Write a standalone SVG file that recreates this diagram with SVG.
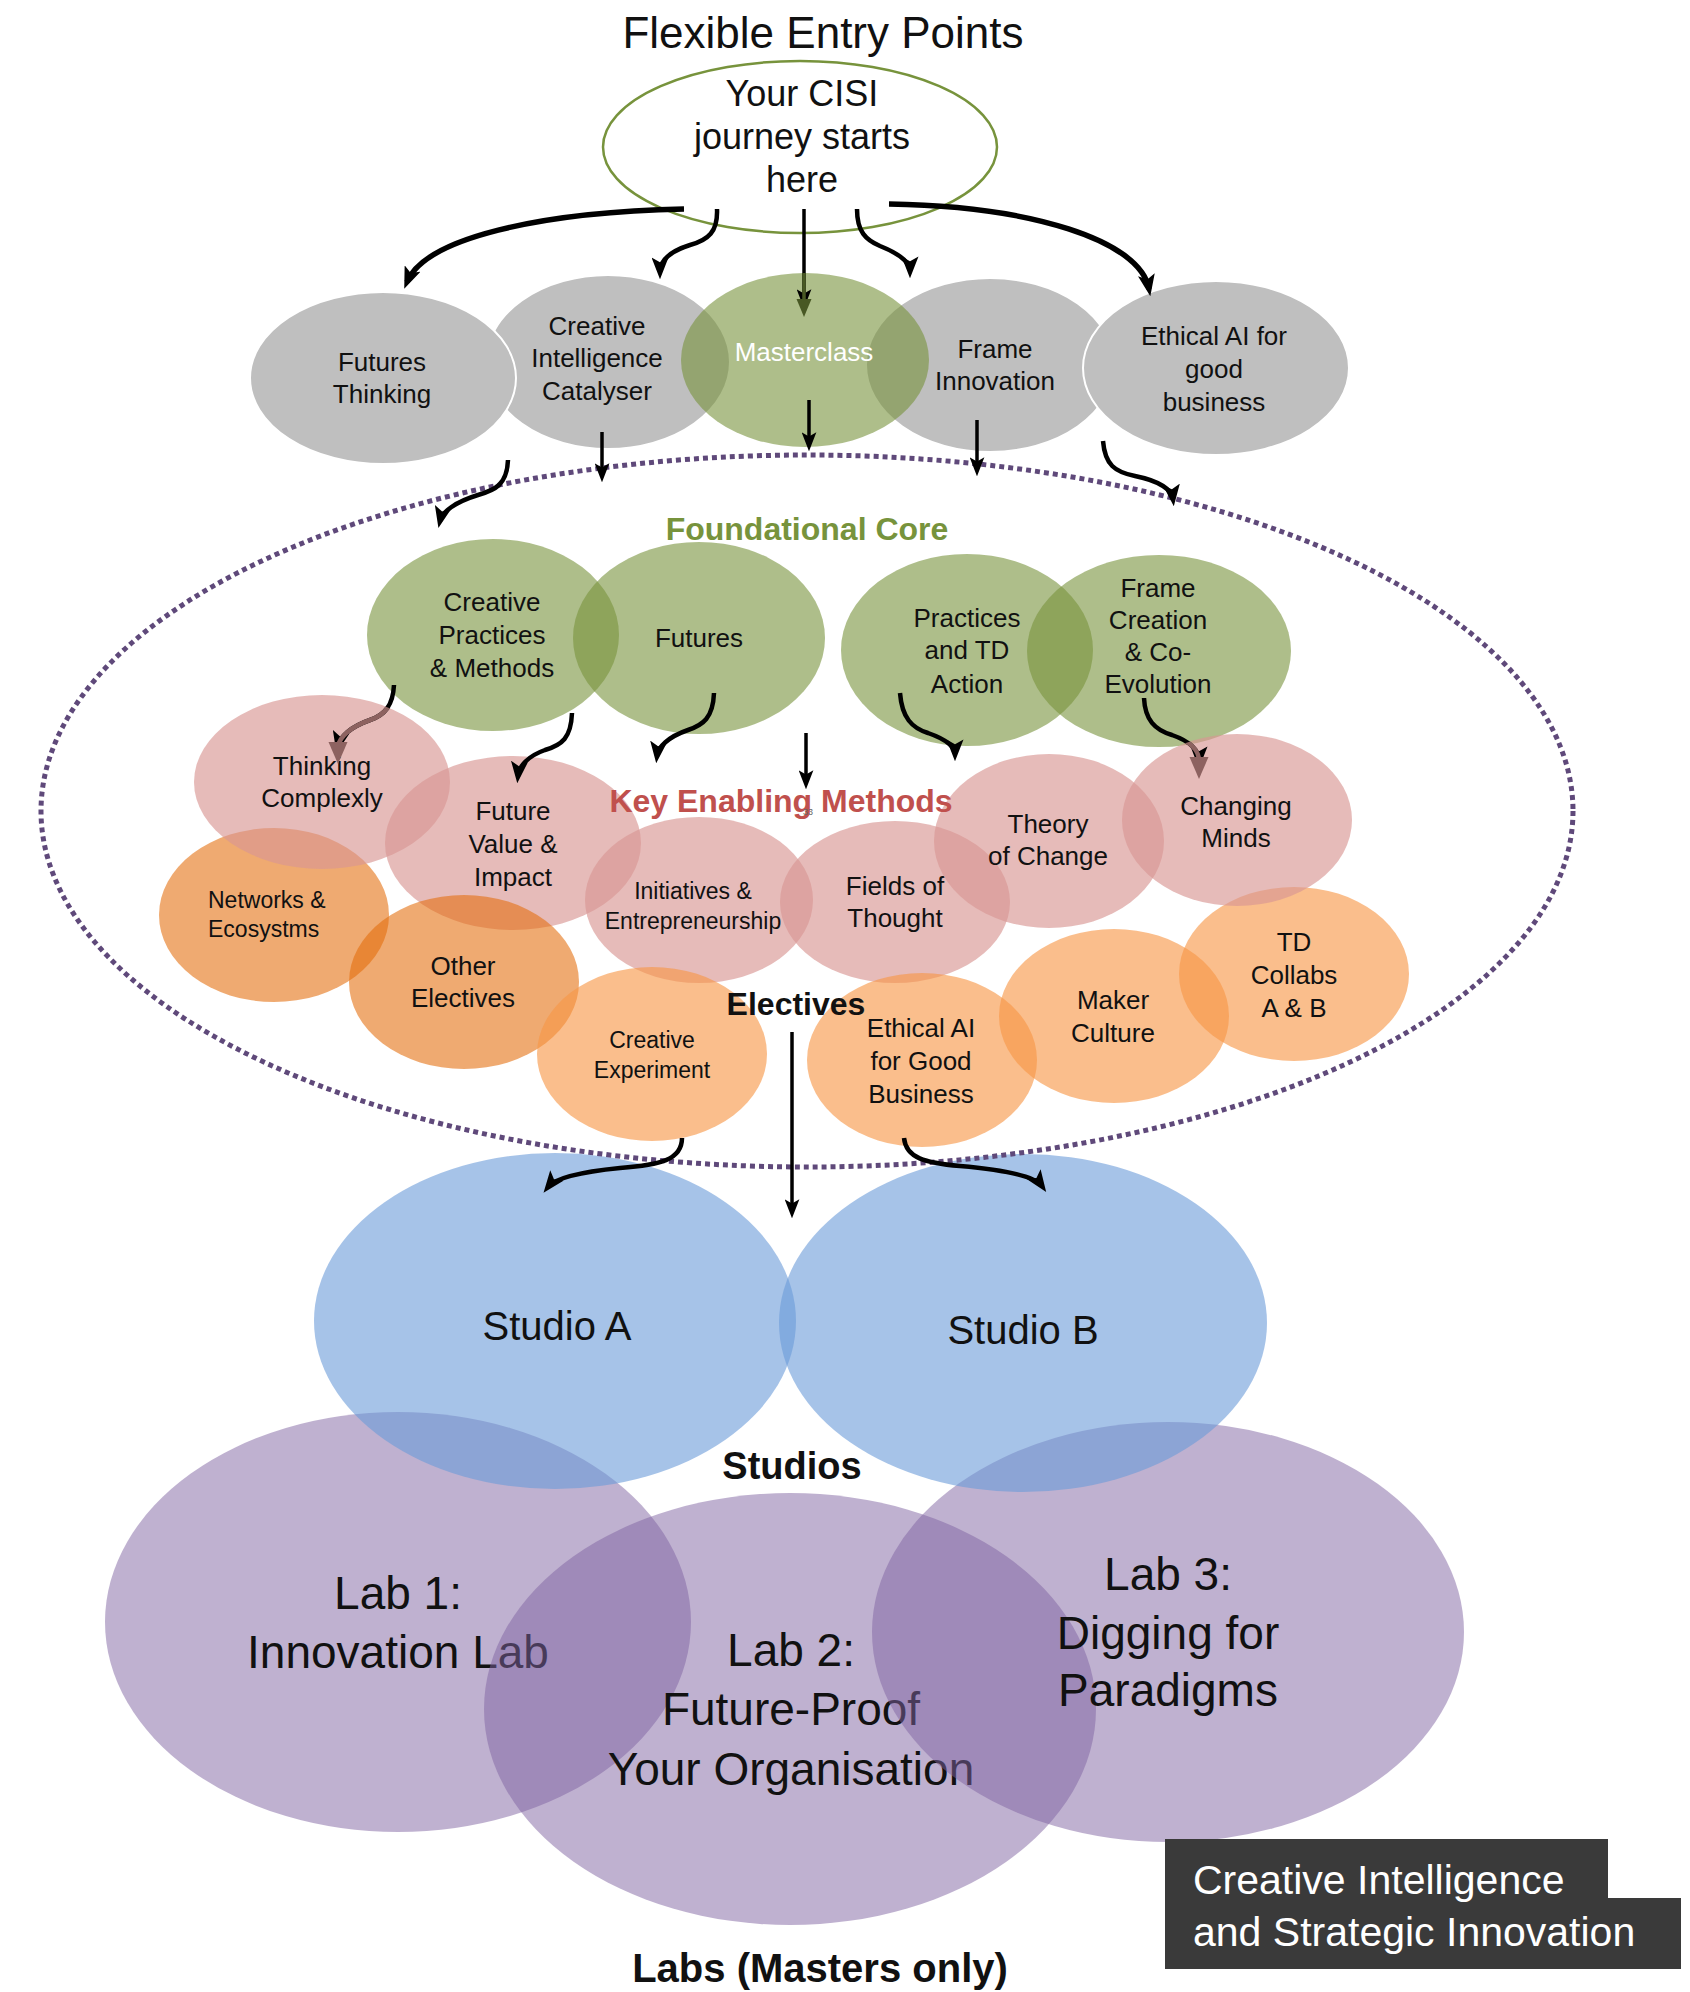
<svg xmlns="http://www.w3.org/2000/svg" width="1690" height="1992" viewBox="0 0 1690 1992">
<style>
text{font-family:"Liberation Sans",Arial,sans-serif;text-anchor:middle;fill:#111}
.t26{font-size:26px}
.t23{font-size:23px}
.lab{font-size:46px}
.hdr{font-weight:bold;font-size:32px}
.gray{fill:#BFBFBF;stroke:#fff;stroke-width:2}
.green{fill:#78933C;fill-opacity:0.6}
.pink{fill:#D99694;fill-opacity:0.65}
.orD{fill:#E36C0A;fill-opacity:0.58}
.orL{fill:#F79646;fill-opacity:0.62}
.studio{fill:#6B9BD8;fill-opacity:0.6}
.labf{fill:#8064A2;fill-opacity:0.5}
.c{fill:none;stroke:#000}
.w5{stroke-width:5.5}
.w4{stroke-width:4.5}
.w3{stroke-width:3.5}
</style>
<defs>
<marker id="ah" viewBox="0 0 18 14" markerWidth="22" markerHeight="17" refX="12" refY="7" orient="auto" markerUnits="userSpaceOnUse"><path d="M0,0 L18,7 L0,14 L4,7 z" fill="#000"/></marker>
<marker id="ahS" viewBox="0 0 18 14" markerWidth="19" markerHeight="15" refX="12" refY="7" orient="auto" markerUnits="userSpaceOnUse"><path d="M0,0 L18,7 L0,14 L4,7 z" fill="#000"/></marker>
<clipPath id="clipMC"><ellipse cx="805" cy="360" rx="124" ry="87"/></clipPath>
<clipPath id="clipTC"><ellipse cx="322" cy="782" rx="128" ry="87"/></clipPath>
<clipPath id="clipCM"><ellipse cx="1237" cy="820" rx="115" ry="86"/></clipPath>
</defs>

<!-- Labs -->
<g id="lab1"><ellipse class="labf" cx="398" cy="1622" rx="293" ry="210"/><text class="lab" x="398" y="1609">Lab 1:</text><text class="lab" x="398" y="1668">Innovation Lab</text></g>
<g id="lab2"><ellipse class="labf" cx="790" cy="1709" rx="306" ry="216"/><text class="lab" x="791" y="1666">Lab 2:</text><text class="lab" x="791" y="1725">Future-Proof</text><text class="lab" x="791" y="1785">Your Organisation</text></g>
<g id="lab3"><ellipse class="labf" cx="1168" cy="1632" rx="296" ry="210"/><text class="lab" x="1168" y="1590">Lab 3:</text><text class="lab" x="1168" y="1649">Digging for</text><text class="lab" x="1168" y="1706">Paradigms</text></g>

<!-- Studios -->
<g id="studioA"><ellipse class="studio" cx="555" cy="1321" rx="241" ry="168"/><text x="557" y="1340" style="font-size:40px">Studio A</text></g>
<g id="studioB"><ellipse class="studio" cx="1023" cy="1323" rx="244" ry="169"/><text x="1023" y="1344" style="font-size:40px">Studio B</text></g>

<g id="labels">
<text x="792" y="1479" style="font-weight:bold;font-size:38px">Studios</text>
<text x="820" y="1982" style="font-weight:bold;font-size:40px">Labs (Masters only)</text>
</g>

<g id="cisi-box">
<path d="M1165,1839 L1608,1839 L1608,1898 L1681,1898 L1681,1969 L1165,1969 Z" fill="#3A3A3A"/>
<text x="1193" y="1894" style="font-size:41px;fill:#fff;text-anchor:start">Creative Intelligence</text>
<text x="1193" y="1946" style="font-size:41px;fill:#fff;text-anchor:start">and Strategic Innovation</text>
</g>

<!-- dotted boundary -->
<g id="boundary"><ellipse cx="807" cy="811" rx="766" ry="356" fill="none" stroke="#5F497A" stroke-width="5" stroke-dasharray="5 4"/></g>

<!-- entry points -->
<g id="cic"><ellipse class="gray" cx="608" cy="362" rx="122" ry="87"/><text class="t26" x="597" y="335">Creative</text><text class="t26" x="597" y="367">Intelligence</text><text class="t26" x="597" y="400">Catalyser</text></g>
<g id="frame-innovation"><ellipse class="gray" cx="990" cy="365" rx="124" ry="87"/><text class="t26" x="995" y="358">Frame</text><text class="t26" x="995" y="390">Innovation</text></g>
<g id="futures-thinking"><ellipse class="gray" cx="383" cy="378" rx="133" ry="86"/><text class="t26" x="382" y="371">Futures</text><text class="t26" x="382" y="403">Thinking</text></g>
<g id="ethical-ai-entry"><ellipse class="gray" cx="1216" cy="368" rx="133" ry="87"/><text class="t26" x="1214" y="345">Ethical AI for</text><text class="t26" x="1214" y="378">good</text><text class="t26" x="1214" y="411">business</text></g>
<g id="masterclass"><ellipse class="green" cx="805" cy="360" rx="124" ry="87"/><text class="t26" x="804" y="361" style="fill:#fff">Masterclass</text></g>

<g id="start"><ellipse cx="800" cy="147" rx="197" ry="86" fill="#fff" stroke="#77933C" stroke-width="2.5"/>
<text x="802" y="106" style="font-size:36px">Your CISI</text><text x="802" y="149" style="font-size:36px">journey starts</text><text x="802" y="192" style="font-size:36px">here</text></g>

<!-- foundational core -->
<g id="cpm"><ellipse class="green" cx="493" cy="635" rx="126" ry="96"/><text class="t26" x="492" y="611">Creative</text><text class="t26" x="492" y="644">Practices</text><text class="t26" x="492" y="677">&amp; Methods</text></g>
<g id="futures"><ellipse class="green" cx="699" cy="638" rx="126" ry="96"/><text class="t26" x="699" y="647">Futures</text></g>
<g id="practices-td"><ellipse class="green" cx="967" cy="650" rx="126" ry="96"/><text class="t26" x="967" y="627">Practices</text><text class="t26" x="967" y="659">and TD</text><text class="t26" x="967" y="693">Action</text></g>
<g id="frame-creation"><ellipse class="green" cx="1159" cy="651" rx="132" ry="96"/><text class="t26" x="1158" y="597">Frame</text><text class="t26" x="1158" y="629">Creation</text><text class="t26" x="1158" y="661">&amp; Co-</text><text class="t26" x="1158" y="693">Evolution</text></g>

<!-- electives & key enabling methods -->
<g id="networks"><ellipse class="orD" cx="274" cy="915" rx="115" ry="87"/><text class="t23" x="208" y="908" style="text-anchor:start">Networks &amp;</text><text class="t23" x="208" y="937" style="text-anchor:start">Ecosystms</text></g>
<g id="thinking-complexly"><ellipse class="pink" cx="322" cy="782" rx="128" ry="87"/><text class="t26" x="322" y="775">Thinking</text><text class="t26" x="322" y="807">Complexly</text></g>
<g id="future-value"><ellipse class="pink" cx="513" cy="843" rx="128" ry="87"/><text class="t26" x="513" y="820">Future</text><text class="t26" x="513" y="853">Value &amp;</text><text class="t26" x="513" y="886">Impact</text></g>
<g id="other-electives"><ellipse class="orD" cx="464" cy="982" rx="115" ry="87"/><text class="t26" x="463" y="975">Other</text><text class="t26" x="463" y="1007">Electives</text></g>
<g id="initiatives"><ellipse class="pink" cx="699" cy="900" rx="114" ry="83"/><text class="t23" x="693" y="899">Initiatives &amp;</text><text class="t23" x="693" y="929">Entrepreneurship</text></g>
<g id="fields-of-thought"><ellipse class="pink" cx="895" cy="902" rx="115" ry="81"/><text class="t26" x="895" y="895">Fields of</text><text class="t26" x="895" y="927">Thought</text></g>
<g id="theory-of-change"><ellipse class="pink" cx="1049" cy="841" rx="115" ry="87"/><text class="t26" x="1048" y="833">Theory</text><text class="t26" x="1048" y="865">of Change</text></g>
<g id="creative-experiment"><ellipse class="orL" cx="652" cy="1054" rx="115" ry="87"/><text class="t23" x="652" y="1048">Creative</text><text class="t23" x="652" y="1078">Experiment</text></g>
<g id="ethical-ai-elective"><ellipse class="orL" cx="922" cy="1060" rx="115" ry="87"/><text class="t26" x="921" y="1037">Ethical AI</text><text class="t26" x="921" y="1070">for Good</text><text class="t26" x="921" y="1103">Business</text></g>
<g id="maker-culture"><ellipse class="orL" cx="1114" cy="1016" rx="115" ry="87"/><text class="t26" x="1113" y="1009">Maker</text><text class="t26" x="1113" y="1042">Culture</text></g>
<g id="td-collabs"><ellipse class="orL" cx="1294" cy="974" rx="115" ry="87"/><text class="t26" x="1294" y="951">TD</text><text class="t26" x="1294" y="984">Collabs</text><text class="t26" x="1294" y="1017">A &amp; B</text></g>
<g id="changing-minds"><ellipse class="pink" cx="1237" cy="820" rx="115" ry="86"/><text class="t26" x="1236" y="815">Changing</text><text class="t26" x="1236" y="847">Minds</text></g>

<!-- section titles -->
<g id="titles">
<text x="823" y="48" style="font-size:44px">Flexible Entry Points</text>
<text class="hdr" x="807" y="540" style="fill:#77933C">Foundational Core</text>
<text class="hdr" x="781" y="812" style="fill:#C0504D">Key Enabling Methods</text>
<text x="808" y="815" style="font-size:9px;fill:#666">33</text>
<text class="hdr" x="796" y="1015">Electives</text>
</g>

<!-- connectors -->
<g id="connectors">
<path class="c w5" d="M684,209 C540,212 425,238 407,282" marker-end="url(#ah)"/>
<path class="c w4" d="M717,209 C718,232 708,240 690,245 C668,252 660,262 660,272" marker-end="url(#ah)"/>
<path class="c w3" d="M804,209 L804,302" marker-end="url(#ahS)"/>
<path d="M804,209 L804,302" fill="none" stroke="#485824" stroke-width="3.5" clip-path="url(#clipMC)"/>
<path d="M796.5,299 L804,317 L811.5,299 Z" fill="#485824" clip-path="url(#clipMC)"/>
<path class="c w4" d="M857,209 C857,232 866,240 880,246 C900,254 910,262 910,271" marker-end="url(#ah)"/>
<path class="c w5" d="M889,204 C1030,206 1140,240 1149,289" marker-end="url(#ah)"/>
<path class="c w3" d="M602,432 L602,476" marker-end="url(#ahS)"/>
<path class="c w3" d="M809,400 L809,445" marker-end="url(#ahS)"/>
<path class="c w3" d="M977,420 L977,470" marker-end="url(#ahS)"/>
<path class="c w4" d="M1103,441 C1105,465 1115,472 1135,476 C1160,481 1172,490 1173,499" marker-end="url(#ah)"/>
<path class="c w4" d="M508,460 C507,485 495,490 478,495 C455,502 442,512 440,521" marker-end="url(#ah)"/>
<path class="c w4" d="M394,685 C393,705 385,715 370,720 C350,727 340,737 338,746" marker-end="url(#ah)"/>
<g clip-path="url(#clipTC)"><path d="M394,685 C393,705 385,715 370,720 C350,727 340,737 338,746" fill="none" stroke="#8D6260" stroke-width="4.5"/><path d="M328.5,742 L338,764 L347.5,742 Z" fill="#8D6260"/></g>
<path class="c w4" d="M572,713 C571,738 562,745 545,750 C528,756 519,766 518,776" marker-end="url(#ah)"/>
<path class="c w4" d="M714,693 C713,718 703,725 688,730 C668,737 658,747 657,756" marker-end="url(#ah)"/>
<path class="c w3" d="M806,733 L806,783" marker-end="url(#ahS)"/>
<path class="c w4" d="M900,693 C902,718 912,728 928,733 C948,740 955,748 955,754" marker-end="url(#ah)"/>
<path class="c w4" d="M1144,698 C1145,720 1155,730 1172,735 C1192,742 1199,752 1199,761" marker-end="url(#ah)"/>
<g clip-path="url(#clipCM)"><path d="M1144,698 C1145,720 1155,730 1172,735 C1192,742 1199,752 1199,761" fill="none" stroke="#8D6260" stroke-width="4.5"/><path d="M1189.5,757 L1199,779 L1208.5,757 Z" fill="#8D6260"/></g>
<path class="c w3" d="M792,1032 L792,1212" marker-end="url(#ahS)"/>
<path class="c w4" d="M682,1138 C682,1160 660,1165 620,1168 C580,1172 555,1178 548,1187" marker-end="url(#ah)"/>
<path class="c w4" d="M904,1138 C906,1158 925,1163 960,1166 C1005,1170 1035,1176 1042,1186" marker-end="url(#ah)"/>
</g>
</svg>
